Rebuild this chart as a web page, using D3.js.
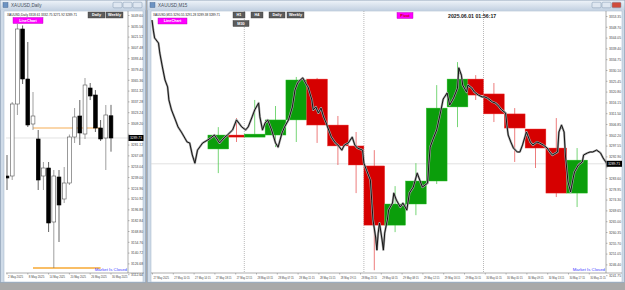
<!DOCTYPE html>
<html>
<head>
<meta charset="utf-8">
<script src="https://cdn.jsdelivr.net/npm/d3@7"></script>
<style>
body { margin:0; background:#a9a9a9; }
svg { display:block; font-family:"Liberation Sans", Arial, sans-serif; }
</style>
</head>
<body>
<div class="chart"></div>
<script>
// Daily XAUUSD (left window)
var dDates  = ["2 May","5 May","6 May","7 May","8 May","9 May","12 May","13 May","14 May","15 May","16 May","19 May","20 May","21 May","22 May","23 May","26 May","27 May","28 May","29 May","30 May"];
var dOpen   = [3240.3,3240.3,3333.9,3431.4,3366.4,3307.9,3288.4,3240.3,3250.7,3180.5,3239.0,3210.4,3231.2,3291.0,3318.3,3294.9,3354.7,3345.6,3302.7,3289.7,3318.61];
var dHigh   = [3267.6,3336.5,3437.9,3436.0,3414.5,3349.5,3300.1,3258.5,3258.5,3248.1,3248.1,3252.0,3294.2,3328.7,3339.1,3367.7,3361.2,3352.0,3313.1,3332.6,3332.75];
var dLow    = [3222.1,3235.1,3319.6,3359.9,3304.0,3300.1,3222.1,3222.1,3167.5,3120.7,3154.5,3205.2,3228.6,3283.2,3280.6,3288.4,3339.0,3297.5,3285.8,3248.1,3271.92];
var dClose  = [3237.7,3333.9,3431.4,3366.4,3306.6,3318.3,3235.1,3250.7,3179.2,3240.3,3202.6,3231.2,3291.0,3317.0,3296.2,3358.6,3344.3,3302.7,3288.4,3319.6,3289.71];
var dTickDates  = ["2 May","8 May","14 May","20 May","26 May","30 May"];
var dTickLabels = ["2 May 2025","8 May 2025","14 May 2025","20 May 2025","26 May 2025","30 May 2025"];
var dPriceLabels = [3449.60,3435.56,3421.52,3407.48,3393.44,3379.40,3365.36,3351.32,3337.28,3323.24,3309.20,3295.16,3281.12,3267.08,3253.04,3239.00,3224.96,3210.92,3196.88,3182.84,3168.80,3154.76,3140.72,3126.68,3112.64];
var dLevels = [3302.7, 3120.7];
var dLevelColors = ["#f9c98e", "#f7a833"];
var dLevelFrom = "9 May", dLevelTo = "28 May";

// M15 XAUUSD (right window), x = bar number
var mBars = [0,1,2,5,6,8,10,12,13,15,18,20,23,27,29,31,33,35,39,43,
  45,48,52,56,58,62,65,69,72,74,77,79,82,83,85,87,89,92,95,97,
  100,102,105,108,110,112,114,116,119,120,123,124,126,128,130,132,134,135,138,141,
  143,146,148,151,154,156,158,162,163,165,168,169,170,172,173,174,175,177,178,179,
  181,182,185,186,188,191,193,196,198,201,204,206,208,212,213,214,216,219,222,224,
  227,229,232,235,236,238,239,242,243,246,248,251,254,256,258,262,264,266,269,272,
  273,274,276,278,281,283,285,288,291,293,296,298,301,304,306,308,312,313,315,317,
  318,320,322,324,325,328,331,332,335,337,339,342,345,347,350];
var mClose = [3351.6,3347.3,3343.9,3341.7,3337.4,3331.4,3325.8,3322.8,3317.2,3312.9,3308.6,3305.6,3303.0,3299.1,3298.7,3293.5,3290.0,3295.6,3298.7,3300.0,
  3300.8,3302.1,3298.7,3301.2,3302.1,3304.3,3308.6,3305.6,3304.3,3305.6,3309.9,3312.9,3315.9,3309.9,3304.3,3307.3,3308.6,3304.3,3298.7,3296.9,
  3303.0,3305.6,3308.6,3314.2,3321.5,3324.5,3325.8,3326.7,3323.6,3322.8,3317.2,3312.9,3314.2,3311.6,3313.7,3309.9,3307.3,3305.6,3301.2,3298.7,
  3297.8,3295.6,3297.8,3298.7,3301.2,3297.8,3296.5,3295.6,3290.0,3287.0,3282.7,3274.1,3265.5,3258.2,3252.6,3259.9,3264.2,3256.9,3252.6,3259.9,
  3265.5,3269.8,3272.8,3277.1,3274.1,3271.1,3272.8,3269.8,3277.1,3279.7,3285.7,3282.7,3279.7,3281.4,3290.0,3296.9,3300.0,3304.3,3312.0,3317.6,
  3320.2,3315.0,3318.0,3322.3,3331.0,3327.9,3323.6,3320.6,3323.6,3322.3,3320.6,3319.3,3318.5,3318.5,3318.0,3316.3,3315.9,3315.0,3312.9,3311.6,
  3306.4,3302.1,3299.1,3296.5,3294.8,3294.8,3297.8,3303.4,3299.1,3297.8,3299.1,3298.7,3297.8,3296.5,3294.8,3293.5,3294.8,3303.4,3306.4,3303.4,
  3293.5,3281.9,3277.6,3283.6,3286.2,3289.2,3290.5,3293.5,3294.4,3294.8,3294.8,3295.6,3294.4,3292.2,3289.71];

// H4 candles drawn over the M15 chart
var h4Start = [43,59,71,87,103,119,135,151,163,179,195,211,227,243,255,271,287,303,319];
var h4End   = [59,71,87,103,119,135,151,163,179,195,211,227,243,255,271,287,303,319,335];
var h4Open  = [3296.1,3302.1,3301.2,3302.1,3308.6,3326.2,3306.4,3297.4,3288.8,3263.3,3272.4,3282.3,3314.2,3326.2,3319.8,3311.2,3304.7,3296.5,3277.1];
var h4Close = [3302.1,3301.2,3302.5,3308.6,3325.8,3306.4,3297.4,3289.2,3263.3,3272.4,3282.3,3313.7,3326.2,3319.3,3311.2,3305.1,3296.5,3277.1,3291.3];
var h4High  = [3305.5,3309.4,3317.2,3314.6,3327.1,3326.7,3310.3,3303.4,3295.6,3280.1,3290.0,3323.6,3333.5,3327.9,3324.5,3313.7,3304.7,3309.4,3296.5];
var h4Low   = [3285.7,3299.1,3301.2,3296.9,3299.1,3298.7,3289.2,3277.1,3243.9,3260.3,3267.6,3281.0,3305.5,3317.2,3307.7,3290.5,3287.9,3275.4,3271.1];

var daySeps = [71,163,255];
var mTickBars = [0,16,32,48,64,80,96,112,128,144,160,176,192,208,224,240,256,272,288,304,320,336];
var mTickLabels = ["27 May 2025","27 May 10:15","27 May 14:15","27 May 18:15","27 May 22:15","28 May 03:15","28 May 07:15","28 May 11:15",
  "28 May 15:15","28 May 19:15","28 May 23:15","29 May 04:15","29 May 08:15","29 May 12:15","29 May 16:15","29 May 20:15",
  "30 May 01:15","30 May 05:15","30 May 09:15","30 May 13:15","30 May 17:15","30 May 21:15"];
var mPriceLabels = [3353.35,3348.70,3344.05,3339.40,3334.75,3330.10,3325.45,3320.80,3316.15,3311.50,3306.85,3302.20,3297.55,3292.90,3288.25,3283.60,3278.95,3274.30,3269.65,3265.00,3260.35,3255.70,3251.05,3246.40,3241.75];
var lastPrice = 3289.71;

var svg = d3.select(".chart").append("svg").attr("width",625).attr("height",290);
var defs = svg.append("defs");
var tb = defs.append("linearGradient").attr("id","tb").attr("x1",0).attr("y1",0).attr("x2",0).attr("y2",1);
tb.append("stop").attr("offset","0%").attr("stop-color","#eef3f9");
tb.append("stop").attr("offset","100%").attr("stop-color","#c4d2e2");
defs.append("clipPath").attr("id","clipL").append("rect").attr("x",6).attr("y",11).attr("width",122).attr("height",262);
defs.append("clipPath").attr("id","clipR").append("rect").attr("x",151).attr("y",11).attr("width",455).attr("height",262);

var drawWindow = function(x, w, title, red) {
  var win = svg.append("g").attr("transform","translate("+x+",0)");
  win.append("rect").attr("x",0.3).attr("y",0.3).attr("width",w-0.6).attr("height",282)
    .attr("fill","#cfdbe8").attr("stroke","#8aa0ba").attr("stroke-width",0.6);
  win.append("rect").attr("x",0.6).attr("y",0.6).attr("width",w-1.2).attr("height",9.6).attr("fill","url(#tb)");
  win.append("rect").attr("x",3).attr("y",2.5).attr("width",5).attr("height",5).attr("fill","#6d93c2").attr("stroke","#3d5f8c").attr("stroke-width",0.4);
  win.append("text").attr("x",11).attr("y",7.3).attr("font-size",4.6).attr("fill","#45505c").text(title);
  [w-33, w-23, w-13].forEach(function(bx,i){
    win.append("rect").attr("x",bx).attr("y",2.2).attr("width",9).attr("height",5.6).attr("rx",1)
      .attr("fill",(red && i==2) ? "#cf4b3b" : "#dfe7f1").attr("stroke","#7f95ae").attr("stroke-width",0.5);
  });
  win.append("rect").attr("x",4).attr("y",11).attr("width",w-7).attr("height",271).attr("fill","#fff")
    .attr("stroke","#9fb2c8").attr("stroke-width",0.5);
  return win;
};

var button = function(x, y, w, label) {
  svg.append("rect").attr("x",x).attr("y",y).attr("width",w).attr("height",6).attr("fill","#5c5c5c").attr("stroke","#3a3a3a").attr("stroke-width",0.4);
  svg.append("text").attr("x",x+w/2).attr("y",y+4.4).attr("text-anchor","middle").attr("font-size",3.8)
    .attr("font-weight","bold").attr("fill","#fff").text(label);
};

var magenta = function(x, y, w, label, tc) {
  svg.append("rect").attr("x",x).attr("y",y).attr("width",w).attr("height",6).attr("fill","#ff00ff").attr("stroke","#b000b0").attr("stroke-width",0.4);
  svg.append("text").attr("x",x+w/2).attr("y",y+4.4).attr("text-anchor","middle").attr("font-size",3.8)
    .attr("font-weight","bold").attr("fill",tc).text(label);
};

drawWindow(0, 146, "XAUUSD,Daily", false);
drawWindow(147, 478, "XAUUSD,M15", true);

// ---------- left: daily candles ----------
var xD = d3.scaleBand().domain(dDates).range([4.4, 4.4 + 5.2*dDates.length]).padding(0);
var yD = d3.scaleLinear().domain([dPriceLabels[0], dPriceLabels[dPriceLabels.length-1]]).range([15, 15 + 10.8*(dPriceLabels.length-1)]);
var bw = xD.bandwidth();
var cx = function(d) { return xD(d) + bw/2; };

var left = svg.append("g").attr("clip-path","url(#clipL)");
left.append("line").attr("x1",6).attr("x2",128).attr("y1",yD(lastPrice)).attr("y2",yD(lastPrice)).attr("stroke","#d4d4d4").attr("stroke-width",0.7);

dLevels.forEach(function(v,i){
  left.append("line").attr("x1",cx(dLevelFrom)).attr("x2",cx(dLevelTo)).attr("y1",yD(v)).attr("y2",yD(v))
    .attr("stroke",dLevelColors[i]).attr("stroke-width",1.3);
});

var candles = dDates.map(function(d,i){ return {d:d, o:dOpen[i], h:dHigh[i], l:dLow[i], c:dClose[i]}; });
left.selectAll(".wick").data(candles).enter().append("line")
  .attr("x1",(d)=>cx(d.d)).attr("x2",(d)=>cx(d.d))
  .attr("y1",(d)=>yD(d.h)).attr("y2",(d)=>yD(d.l))
  .attr("stroke",(d)=> d.c>=d.o ? "#777" : "#222").attr("stroke-width",0.7);
left.selectAll(".body").data(candles).enter().append("rect")
  .attr("x",(d)=>cx(d.d)-1.9).attr("width",3.8)
  .attr("y",(d)=>yD(Math.max(d.o,d.c)))
  .attr("height",(d)=>Math.max(0.8, Math.abs(yD(d.o)-yD(d.c))))
  .attr("fill",(d)=> d.c>=d.o ? "#fff" : "#000")
  .attr("stroke",(d)=> d.c>=d.o ? "#555" : "#000").attr("stroke-width",0.6);

var axL = svg.append("g").attr("transform","translate(128,0)")
  .call(d3.axisRight(yD).tickValues(dPriceLabels).tickSize(1.5).tickFormat(d3.format(".2f")));
axL.select(".domain").attr("d","M0,11V273").attr("stroke","#777").attr("stroke-width",0.6);
axL.selectAll(".tick line").attr("stroke","#777").attr("stroke-width",0.5);
axL.selectAll("text").attr("x",3).attr("font-size",3.9).attr("fill","#444")
  .attr("textLength",12).attr("lengthAdjust","spacingAndGlyphs")
  .style("opacity",(d)=> Math.abs(yD(d)-yD(lastPrice))<4.5 ? 0 : 1);

var axLb = svg.append("g").attr("transform","translate(0,273)")
  .call(d3.axisBottom(xD).tickValues(dTickDates).tickSize(1.5).tickFormat((d,i)=>dTickLabels[i]));
axLb.select(".domain").attr("d","M6,0H144").attr("stroke","#777").attr("stroke-width",0.6);
axLb.selectAll(".tick line").attr("stroke","#777").attr("stroke-width",0.5);
axLb.selectAll("text").attr("x",1).attr("y",2.4).attr("dy","0.85em").attr("text-anchor","start").attr("font-size",3.6).attr("fill","#444")
  .attr("textLength",(d,i)=> i==0 ? 15 : 15.5).attr("lengthAdjust","spacingAndGlyphs");

svg.append("rect").attr("x",128.5).attr("y",yD(lastPrice)-3).attr("width",15).attr("height",6).attr("fill","#000");
svg.append("text").attr("x",130).attr("y",yD(lastPrice)+1.5).attr("font-size",4).attr("fill","#fff")
  .attr("textLength",12).attr("lengthAdjust","spacingAndGlyphs").text(d3.format(".2f")(lastPrice));

svg.append("text").attr("x",7).attr("y",15.5).attr("font-size",3.4).attr("fill","#222")
  .attr("textLength",70).attr("lengthAdjust","spacingAndGlyphs")
  .text("XAUUSD,Daily  3318.61 3332.75 3271.92 3289.71");
button(88, 12, 17, "Daily");
button(106, 12, 17, "Weekly");
magenta(13, 17.5, 30, "LineChart", "#fff");
svg.append("text").attr("x",127).attr("y",271).attr("text-anchor","end").attr("font-size",4.3).attr("fill","#3b3bff").text("Market Is Closed");

// ---------- right: M15 line with H4 boxes ----------
var xM = d3.scaleLinear().domain([0,350]).range([152,607]);
var yM = d3.scaleLinear().domain([mPriceLabels[0], mPriceLabels[mPriceLabels.length-1]]).range([16, 16 + 10.8*(mPriceLabels.length-1)]);

var right = svg.append("g").attr("clip-path","url(#clipR)");
right.append("line").attr("x1",151).attr("x2",606).attr("y1",yM(lastPrice)).attr("y2",yM(lastPrice)).attr("stroke","#d4d4d4").attr("stroke-width",0.7);

right.selectAll(".sep").data(daySeps).enter().append("line")
  .attr("x1",(d)=>xM(d)).attr("x2",(d)=>xM(d)).attr("y1",11).attr("y2",273)
  .attr("stroke","#8a8a8a").attr("stroke-width",0.6).attr("stroke-dasharray","1,1");

var h4 = h4Start.map(function(s,i){ return {s:s, e:h4End[i], o:h4Open[i], c:h4Close[i], h:h4High[i], l:h4Low[i]}; });
right.selectAll(".h4wick").data(h4).enter().append("line")
  .attr("x1",(d)=>xM((d.s+d.e)/2)).attr("x2",(d)=>xM((d.s+d.e)/2))
  .attr("y1",(d)=>yM(d.h)).attr("y2",(d)=>yM(d.l))
  .attr("stroke",(d)=> d.c>=d.o ? "#3cc43c" : "#e54545").attr("stroke-width",0.7);
right.selectAll(".h4body").data(h4).enter().append("rect")
  .attr("x",(d)=>xM(d.s)).attr("width",(d)=>xM(d.e)-xM(d.s))
  .attr("y",(d)=>yM(Math.max(d.o,d.c)))
  .attr("height",(d)=>Math.max(1, Math.abs(yM(d.o)-yM(d.c))))
  .attr("fill",(d)=> d.c>=d.o ? "#0b9e0b" : "#d60000")
  .attr("stroke",(d)=> d.c>=d.o ? "#2fc42f" : "#ee4040").attr("stroke-width",0.4);

var pts = mBars.map(function(b,i){ return [b, mClose[i]]; });
var line = d3.line().x((d)=>xM(d[0])).y((d)=>yM(d[1]));
right.append("path").datum(pts).attr("d",line).attr("fill","none").attr("stroke","#a4a4a4").attr("stroke-width",2.2).attr("stroke-linejoin","round");
right.append("path").datum(pts).attr("d",line).attr("fill","none").attr("stroke","#151515").attr("stroke-width",1).attr("stroke-linejoin","round");

var axR = svg.append("g").attr("transform","translate(606,0)")
  .call(d3.axisRight(yM).tickValues(mPriceLabels).tickSize(1.5).tickFormat(d3.format(".2f")));
axR.select(".domain").attr("d","M0,11V273").attr("stroke","#777").attr("stroke-width",0.6);
axR.selectAll(".tick line").attr("stroke","#777").attr("stroke-width",0.5);
axR.selectAll("text").attr("x",3).attr("font-size",3.9).attr("fill","#444")
  .attr("textLength",12).attr("lengthAdjust","spacingAndGlyphs")
  .style("opacity",(d)=> Math.abs(yM(d)-yM(lastPrice))<4.5 ? 0 : 1);

var axRb = svg.append("g").attr("transform","translate(0,273)")
  .call(d3.axisBottom(xM).tickValues(mTickBars).tickSize(1.5).tickFormat((d,i)=>mTickLabels[i]));
axRb.select(".domain").attr("d","M151,0H622").attr("stroke","#777").attr("stroke-width",0.6);
axRb.selectAll(".tick line").attr("stroke","#777").attr("stroke-width",0.5);
axRb.selectAll("text").attr("x",1).attr("y",2.6).attr("dy","0.85em").attr("text-anchor","start").attr("font-size",3.6).attr("fill","#444")
  .attr("textLength",15.5).attr("lengthAdjust","spacingAndGlyphs");

svg.append("rect").attr("x",606.5).attr("y",yM(lastPrice)-3).attr("width",15.5).attr("height",6).attr("fill","#000");
svg.append("text").attr("x",608).attr("y",yM(lastPrice)+1.5).attr("font-size",4).attr("fill","#fff")
  .attr("textLength",12).attr("lengthAdjust","spacingAndGlyphs").text(d3.format(".2f")(lastPrice));

svg.append("text").attr("x",153).attr("y",15.5).attr("font-size",3.4).attr("fill","#222")
  .attr("textLength",67).attr("lengthAdjust","spacingAndGlyphs")
  .text("XAUUSD,M15  3290.55 3291.28 3289.38 3289.71");
button(233, 12, 12, "H1");
button(251, 12, 12, "H4");
button(269, 12, 16, "Daily");
button(287, 12, 17, "Weekly");
button(233, 20.5, 16, "M30");
magenta(158, 18, 29, "LineChart", "#fff");
magenta(397, 12.5, 16, "Pivot", "#c00000");
svg.append("text").attr("x",448).attr("y",17.5).attr("font-size",5.2).attr("font-weight","bold").attr("fill","#222").text("2025.06.01 01:56:17");
svg.append("text").attr("x",605).attr("y",271).attr("text-anchor","end").attr("font-size",4.3).attr("fill","#3b3bff").text("Market Is Closed");
</script>
</body>
</html>
